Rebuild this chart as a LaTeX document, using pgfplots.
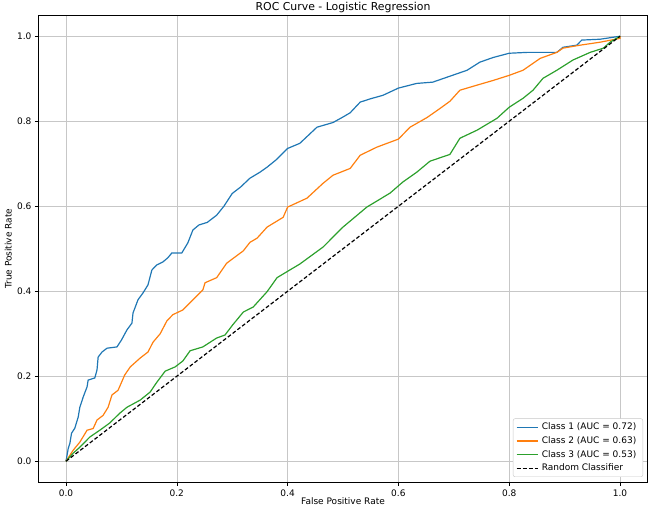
\documentclass[border=0pt]{standalone}
\usepackage{fontspec}
\setmainfont{DejaVu Sans}
\usepackage{pgfplots}
\pgfplotsset{compat=1.18}
\definecolor{c1}{HTML}{1F77B4}
\definecolor{c2}{HTML}{FF7F0E}
\definecolor{c3}{HTML}{2CA02C}
\begin{document}
\begin{tikzpicture}
\begin{axis}[
  name=ax,
  scale only axis,
  width=609.4bp, height=467.5bp,
  xmin=-0.05, xmax=1.05, ymin=-0.05, ymax=1.05,
  xtick={0,0.2,0.4,0.6,0.8,1.0},
  ytick={0,0.2,0.4,0.6,0.8,1.0},
  xticklabels={0.0,0.2,0.4,0.6,0.8,1.0},
  yticklabels={0.0,0.2,0.4,0.6,0.8,1.0},
  /pgf/number format/assume math mode=true,
  tick align=outside, tick pos=left,
  major tick length=3.4bp,
  every tick/.style={black, line width=0.5pt},
  ticklabel style={font=\fontsize{9bp}{11bp}\selectfont},
  grid=major,
  grid style={line width=0.6pt, color=black!22},
  axis line style={line width=0.6pt},
  title={ROC Curve - Logistic Regression},
  title style={font=\fontsize{10.9bp}{13bp}\selectfont, yshift=-7bp},
  xlabel={False Positive Rate},
  ylabel={True Positive Rate},
  label style={font=\fontsize{9bp}{11bp}\selectfont},
  xlabel style={at={(axis description cs:0.5,0)}, anchor=center, yshift=-18.5bp},
  ylabel style={at={(axis description cs:0,0.5)}, anchor=center, rotate=0, yshift=30bp},
  legend cell align=left,
  legend style={at={(1,0)}, anchor=south east, xshift=-4.7bp, yshift=5.5bp,
    font=\fontsize{9bp}{11bp}\selectfont, draw=black!22, rounded corners=2pt,
    row sep=1.3bp, inner xsep=3bp, inner ysep=2.5bp,
    nodes={inner xsep=3.5bp}},
  legend image code/.code={\draw[#1] (0bp,0bp) -- (21bp,0bp);},
]
\addplot[c1, line width=1.2pt] coordinates {
(0,0)(0.004,0.03)(0.007,0.042)(0.01,0.066)(0.016,0.078)(0.022,0.104)(0.025,0.127)(0.031,0.151)(0.038,0.175)(0.04,0.191)(0.052,0.196)(0.056,0.215)(0.058,0.245)(0.065,0.257)(0.074,0.266)(0.092,0.269)(0.10,0.285)(0.11,0.309)(0.119,0.325)(0.121,0.349)(0.13,0.38)(0.139,0.396)(0.148,0.415)(0.155,0.45)(0.164,0.462)(0.175,0.469)(0.184,0.479)(0.191,0.49)(0.209,0.49)(0.22,0.514)(0.229,0.544)(0.24,0.556)(0.255,0.562)(0.272,0.579)(0.285,0.60)(0.30,0.63)(0.315,0.645)(0.332,0.666)(0.35,0.68)(0.363,0.692)(0.38,0.71)(0.40,0.736)(0.422,0.748)(0.44,0.77)(0.453,0.786)(0.482,0.797)(0.50,0.81)(0.513,0.82)(0.531,0.845)(0.55,0.853)(0.572,0.861)(0.60,0.878)(0.633,0.889)(0.662,0.892)(0.693,0.906)(0.724,0.92)(0.747,0.939)(0.771,0.95)(0.80,0.96)(0.832,0.962)(0.886,0.962)(0.897,0.974)(0.922,0.979)(0.931,0.991)(0.964,0.993)(1,1)
};
\addlegendentry{Class 1 (AUC = 0.72)}
\addplot[c2, line width=1.2pt] coordinates {
(0,0)(0.013,0.026)(0.025,0.045)(0.038,0.073)(0.049,0.077)(0.056,0.097)(0.067,0.108)(0.076,0.127)(0.083,0.156)(0.094,0.167)(0.106,0.203)(0.116,0.222)(0.134,0.243)(0.148,0.257)(0.157,0.28)(0.17,0.300)(0.182,0.33)(0.193,0.345)(0.211,0.356)(0.224,0.373)(0.247,0.403)(0.251,0.42)(0.272,0.432)(0.29,0.466)(0.32,0.495)(0.332,0.515)(0.345,0.525)(0.363,0.551)(0.392,0.574)(0.40,0.598)(0.435,0.619)(0.464,0.654)(0.482,0.673)(0.513,0.689)(0.531,0.72)(0.561,0.739)(0.60,0.758)(0.621,0.786)(0.652,0.809)(0.675,0.83)(0.693,0.847)(0.711,0.873)(0.742,0.885)(0.771,0.896)(0.80,0.908)(0.825,0.92)(0.856,0.948)(0.886,0.962)(0.897,0.972)(0.928,0.979)(0.964,0.986)(1,0.995)(1,1)
};
\addlegendentry{Class 2 (AUC = 0.63)}
\addplot[c3, line width=1.2pt] coordinates {
(0,0)(0.013,0.019)(0.025,0.033)(0.043,0.057)(0.061,0.073)(0.079,0.09)(0.097,0.113)(0.11,0.127)(0.134,0.144)(0.152,0.163)(0.164,0.186)(0.179,0.212)(0.197,0.222)(0.211,0.236)(0.224,0.26)(0.247,0.269)(0.272,0.29)(0.287,0.297)(0.301,0.321)(0.32,0.351)(0.338,0.363)(0.363,0.399)(0.381,0.432)(0.404,0.45)(0.422,0.464)(0.464,0.504)(0.50,0.551)(0.543,0.598)(0.585,0.631)(0.608,0.657)(0.633,0.68)(0.657,0.706)(0.693,0.722)(0.711,0.76)(0.742,0.779)(0.778,0.807)(0.80,0.833)(0.825,0.854)(0.843,0.873)(0.861,0.901)(0.886,0.92)(0.915,0.944)(0.946,0.962)(0.97,0.972)(0.982,0.986)(1,1)
};
\addlegendentry{Class 3 (AUC = 0.53)}
\addplot[black, line width=1.2pt, dash pattern=on 3.8bp off 2.2bp] coordinates {(0,0)(1,1)};
\addlegendentry{Random Classifier}
\end{axis}
\pgfresetboundingbox
\useasboundingbox ([xshift=-38.3bp,yshift=-29.5bp]ax.south west) rectangle ([xshift=2.3bp,yshift=15bp]ax.north east);
\end{tikzpicture}
\end{document}
